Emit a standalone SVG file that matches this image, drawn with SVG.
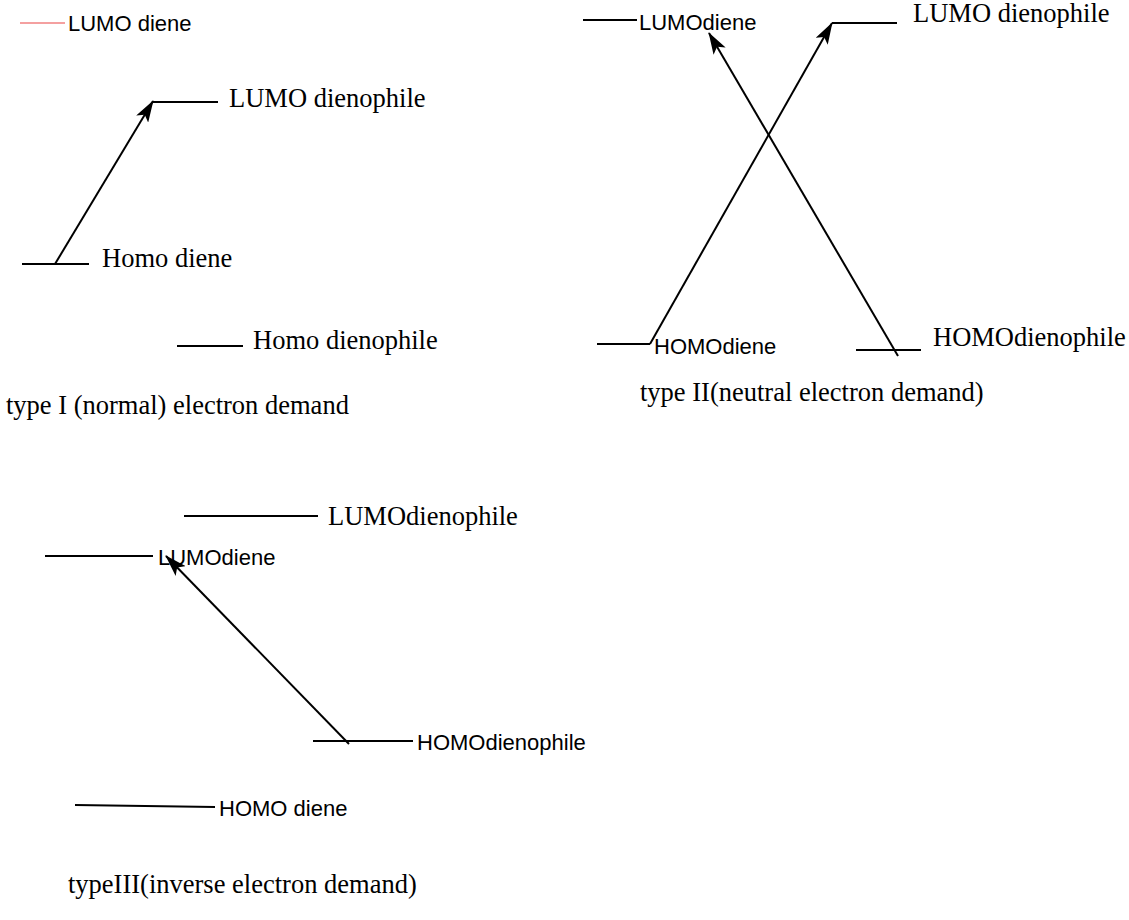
<svg xmlns="http://www.w3.org/2000/svg" width="1129" height="920" viewBox="0 0 1129 920">
<style>
.lvl{stroke:#000;stroke-width:2;fill:none}
.arr{stroke:#000;stroke-width:2;fill:none;marker-end:url(#ah)}
.sans{font-family:"Liberation Sans",Arial,sans-serif;font-size:22px;fill:#000}
.serif{font-family:"Liberation Serif","Times New Roman",serif;font-size:26.5px;fill:#000}
</style>
<defs>
<marker id="ah" viewBox="0 0 22 14" refX="21" refY="7" markerWidth="22" markerHeight="14" markerUnits="userSpaceOnUse" orient="auto">
<path d="M0,0 L22,7 L0,14 L5,7 Z" fill="#000"/>
</marker>
</defs>
<rect width="1129" height="920" fill="#fff"/>
<g id="connectors">
<line class="arr" x1="55" y1="264" x2="153" y2="101"/>
<line class="arr" x1="650" y1="344" x2="832" y2="23"/>
<line class="arr" x1="898" y1="356" x2="709" y2="33"/>
<line class="arr" x1="349" y1="744" x2="166" y2="556"/>
</g>
<g id="t1-lumo-diene">
<line x1="20" y1="23" x2="65" y2="23" stroke="#f08080" stroke-width="1.5"/>
<text class="sans" x="68" y="31">LUMO diene</text>
</g>
<g id="t1-lumo-dienophile">
<line class="lvl" x1="153" y1="102" x2="218" y2="102"/>
<text class="serif" x="229" y="107">LUMO dienophile</text>
</g>
<g id="t1-homo-diene">
<line class="lvl" x1="22" y1="264" x2="89" y2="264"/>
<text class="serif" x="102" y="267">Homo diene</text>
</g>
<g id="t1-homo-dienophile">
<line class="lvl" x1="177" y1="346" x2="243" y2="346"/>
<text class="serif" x="253" y="349">Homo dienophile</text>
</g>
<g id="t1-caption">
<text class="serif" x="6" y="414">type I (normal) electron demand</text>
</g>
<g id="t2-lumo-diene">
<line class="lvl" x1="583" y1="20" x2="637" y2="20"/>
<text class="sans" x="639" y="30">LUMOdiene</text>
</g>
<g id="t2-lumo-dienophile">
<line class="lvl" x1="832" y1="23" x2="897" y2="23"/>
<text class="serif" x="913" y="22">LUMO dienophile</text>
</g>
<g id="t2-homo-diene">
<line class="lvl" x1="597" y1="344" x2="650" y2="344"/>
<text class="sans" x="654" y="354">HOMOdiene</text>
</g>
<g id="t2-homo-dienophile">
<line class="lvl" x1="856" y1="350" x2="921" y2="350"/>
<text class="serif" x="933" y="346">HOMOdienophile</text>
</g>
<g id="t2-caption">
<text class="serif" x="640" y="401">type II(neutral electron demand)</text>
</g>
<g id="t3-lumo-dienophile">
<line class="lvl" x1="184" y1="516" x2="318" y2="516"/>
<text class="serif" x="328" y="525">LUMOdienophile</text>
</g>
<g id="t3-lumo-diene">
<line class="lvl" x1="45" y1="556" x2="153" y2="556"/>
<text class="sans" x="158" y="565">LUMOdiene</text>
</g>
<g id="t3-homo-dienophile">
<line class="lvl" x1="313" y1="741" x2="413" y2="741"/>
<text class="sans" x="417" y="750">HOMOdienophile</text>
</g>
<g id="t3-homo-diene">
<line class="lvl" x1="75" y1="805" x2="215" y2="807"/>
<text class="sans" x="219" y="816">HOMO diene</text>
</g>
<g id="t3-caption">
<text class="serif" x="68" y="893">typeIII(inverse electron demand)</text>
</g>
</svg>
